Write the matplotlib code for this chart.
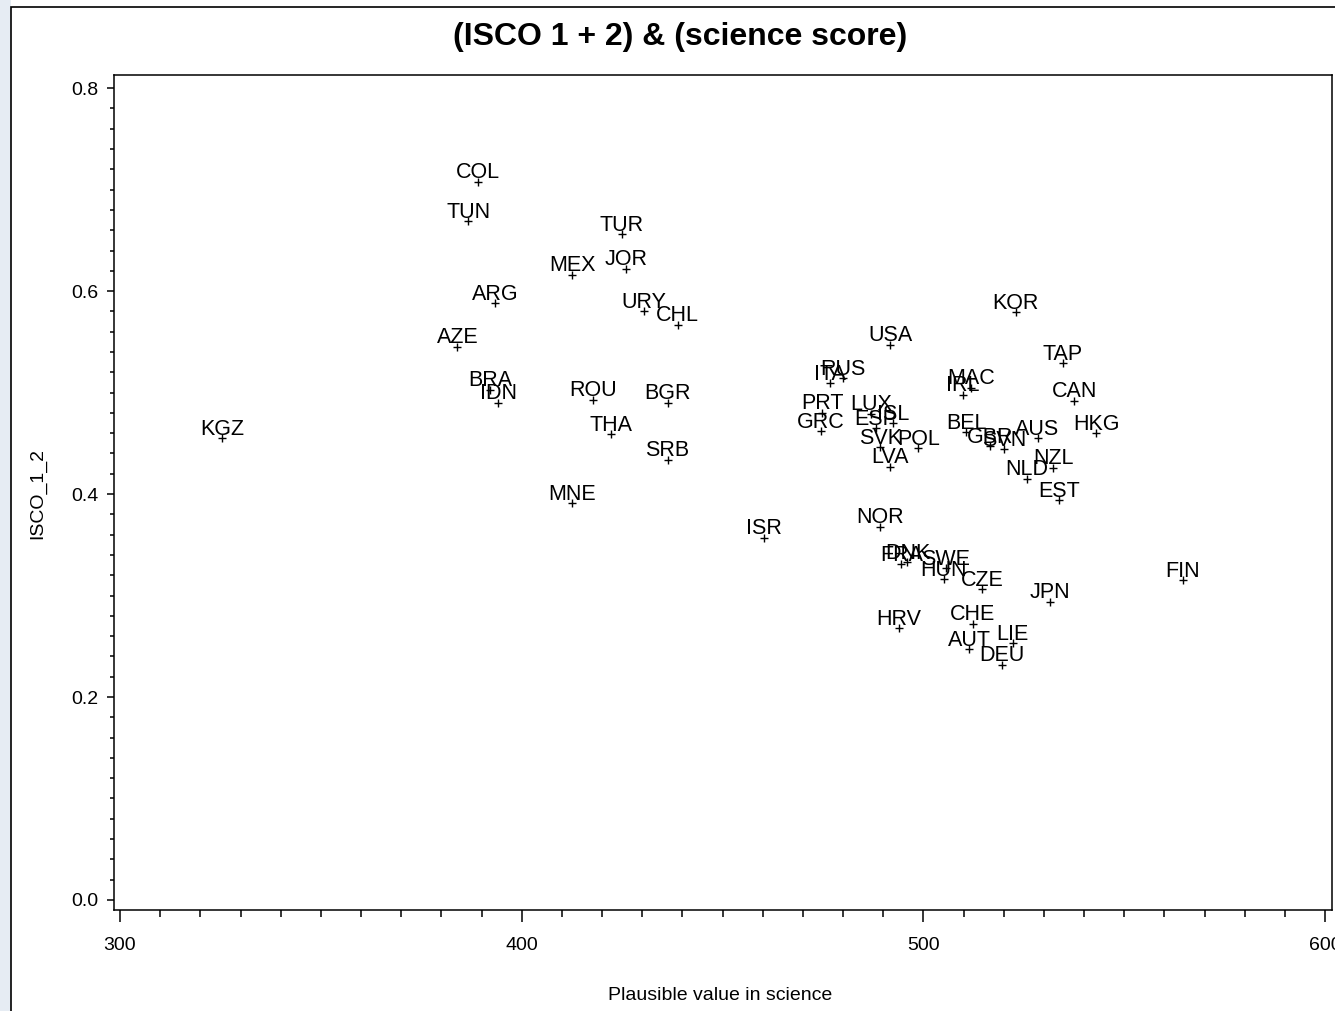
"""
Scatter of ISCO 1+2 share vs. PISA science score, labelled by country code.
Recreated from a SAS/GRAPH-style plot.
"""
import matplotlib
matplotlib.use("Agg")
import matplotlib.pyplot as plt
from matplotlib.ticker import MultipleLocator, FormatStrFormatter
from matplotlib.patches import Rectangle

plt.rcParams["font.family"] = ["Liberation Sans", "DejaVu Sans"]

# --- Data -----------------------------------------------------------------
countries = ["KGZ", "COL", "TUN", "TUR", "MEX", "JOR", "ARG", "URY", "CHL", "AZE",
             "BRA", "IDN", "ROU", "BGR", "THA", "SRB", "MNE", "ISR", "USA", "KOR",
             "TAP", "CAN", "HKG", "IRL", "MAC", "BEL", "GBR", "SVN", "AUS", "NZL",
             "NLD", "EST", "ITA", "RUS", "PRT", "GRC", "LUX", "ISL", "ESP", "SVK",
             "POL", "LVA", "NOR", "DNK", "FRA", "SWE", "HUN", "CZE", "HRV", "CHE",
             "AUT", "LIE", "DEU", "JPN", "FIN"]
science = [325.4, 389.0, 386.7, 424.9, 412.6, 425.9, 393.4, 430.5, 438.8, 384.0,
           392.1, 394.2, 417.8, 436.3, 422.2, 436.3, 412.6, 460.3, 491.7, 523.0,
           534.7, 537.5, 543.0, 509.9, 511.8, 510.6, 516.6, 520.1, 528.4, 532.3,
           525.7, 533.8, 476.7, 480.0, 474.8, 474.4, 487.0, 492.4, 488.2, 489.2,
           498.7, 491.7, 489.2, 496.0, 494.5, 505.5, 505.0, 514.6, 493.8, 512.3,
           511.4, 522.2, 519.6, 531.5, 564.6]
isco_1_2 = [0.455, 0.708, 0.669, 0.656, 0.616, 0.622, 0.588, 0.580, 0.567, 0.545,
            0.503, 0.490, 0.493, 0.490, 0.459, 0.434, 0.391, 0.357, 0.547, 0.579,
            0.529, 0.492, 0.460, 0.498, 0.505, 0.461, 0.447, 0.444, 0.455, 0.426,
            0.415, 0.394, 0.509, 0.514, 0.480, 0.462, 0.479, 0.470, 0.465, 0.446,
            0.445, 0.427, 0.368, 0.333, 0.331, 0.327, 0.316, 0.306, 0.268, 0.272,
            0.247, 0.253, 0.232, 0.294, 0.315]

# --- Figure ---------------------------------------------------------------
fig = plt.figure(figsize=(13.35, 10.11), dpi=100)

# light margin on the far left + outer frame, like the exported SAS graph
fig.patches.append(Rectangle((0, 0), 11 / 1335, 1, transform=fig.transFigure,
                             facecolor="#e6ecf3", edgecolor="none", zorder=0))
fig.patches.append(Rectangle((11 / 1335, -0.01), 1.0, 1.0 - 7 / 1011 + 0.01,
                             transform=fig.transFigure, facecolor="none",
                             edgecolor="black", linewidth=1.2, zorder=1))

ax = fig.add_axes([114 / 1335, 101 / 1011, 1218 / 1335, 835 / 1011])

ax.plot(science, isco_1_2, linestyle="none", marker="+", markersize=6,
        markeredgewidth=1.0, color="black")
for name, x, y in zip(countries, science, isco_1_2):
    ax.annotate(name, xy=(x, y), xytext=(0, 2.5), textcoords="offset points",
                ha="center", va="baseline", fontsize=15.5, color="black")

ax.set_xlim(298.5, 601.7)
ax.set_ylim(-0.0099, 0.813)
ax.xaxis.set_major_locator(MultipleLocator(100))
ax.xaxis.set_minor_locator(MultipleLocator(10))
ax.yaxis.set_major_locator(MultipleLocator(0.2))
ax.yaxis.set_minor_locator(MultipleLocator(0.02))
ax.yaxis.set_major_formatter(FormatStrFormatter("%.1f"))

ax.tick_params(axis="x", which="major", direction="out", length=8.5, width=1.1,
               pad=11, labelsize=14)
ax.tick_params(axis="x", which="minor", direction="out", length=5, width=1.1)
ax.tick_params(axis="y", which="major", direction="out", length=5, width=1.1,
               pad=6, labelsize=14)
ax.tick_params(axis="y", which="minor", direction="out", length=3, width=1.1)
for s in ax.spines.values():
    s.set_linewidth(1.1)

# axis titles placed where the SAS layout puts them
fig.text(720 / 1335, 1 - 995 / 1011, "Plausible value in science",
         ha="center", va="center", fontsize=14)
fig.text(38 / 1335, 1 - 494 / 1011, "ISCO_1_2", rotation=90,
         ha="center", va="center", fontsize=14)
fig.text(680 / 1335, 1 - 37 / 1011, "(ISCO 1 + 2) & (science score)", ha="center",
         va="center", fontsize=23, fontweight="bold")

fig.savefig("out.png", dpi=100)
